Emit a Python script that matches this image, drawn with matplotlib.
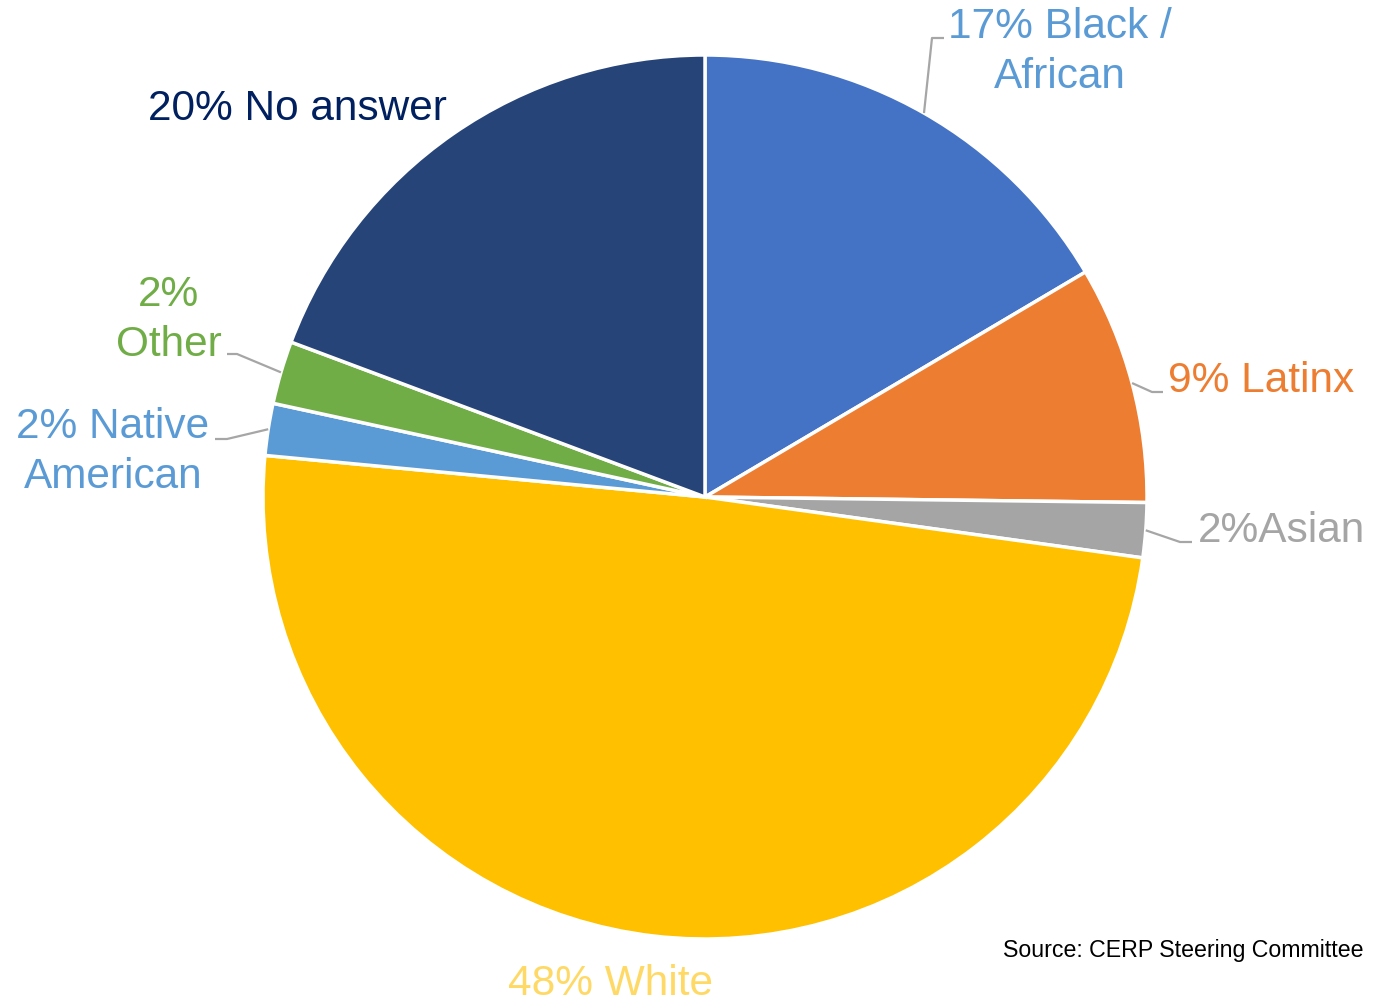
import numpy as np
import matplotlib.pyplot as plt

plt.rcParams['font.family'] = ['Liberation Sans', 'DejaVu Sans']

# shares (labels show the rounded values)
groups = ['Black / African', 'Latinx', 'Asian', 'White', 'Native American', 'Other', 'No answer']
shares = [16.5, 8.7, 2.0, 49.3, 1.9, 2.3, 19.3]
labels = ['17% Black /\nAfrican', '9% Latinx', '2%Asian', '48% White',
          '2% Native\nAmerican', '2%\nOther', '20% No answer']
slice_colors = ['#4472C4', '#ED7D31', '#A5A5A5', '#FFC000', '#5B9BD5', '#70AD47', '#264478']
text_colors = ['#5B9BD5', '#ED7D31', '#A5A5A5', '#FFD966', '#5B9BD5', '#70AD47', '#002060']

# label layout in pixel coords (x, y from top): text centre, leader elbow, leader end
W, H = 1374, 1005
cx, cy, R = 705, 497, 442
text_pos = [(1060, 52), (1261, 381), (1281, 531), (611, 984), (113, 452), (169, 320), (297, 109)]
elbows = [(932, 38), (1152, 392), (1180, 542), None, (227, 439), (237, 354), None]
ends = [(944, 38), (1163, 392), (1192, 542), None, (215, 439), (227, 354), None]

fig = plt.figure(figsize=(W / 100, H / 100), dpi=100)
ax = fig.add_axes([0, 0, 1, 1])

wedges, _ = ax.pie(shares, colors=slice_colors, startangle=90, counterclock=False,
                   center=(cx, H - cy), radius=R, frame=True,
                   wedgeprops=dict(edgecolor='white', linewidth=2.5))
ax.set_xlim(0, W)
ax.set_ylim(0, H)
ax.axis('off')

for i, w in enumerate(wedges):
    if elbows[i] is not None:
        mid = np.deg2rad((w.theta1 + w.theta2) / 2)
        x0 = cx + R * np.cos(mid)
        y0 = (H - cy) + R * np.sin(mid)
        ax.plot([x0, elbows[i][0], ends[i][0]],
                [y0, H - elbows[i][1], H - ends[i][1]],
                color='#A6A6A6', lw=1.6, solid_capstyle='butt')
    tx, ty = text_pos[i]
    ax.text(tx, H - ty, labels[i], color=text_colors[i], fontsize=30.5,
            ha='center', va='center', multialignment='center', linespacing=1.3)

ax.text(1003, H - 957, 'Source: CERP Steering Committee', fontsize=16.7,
        color='black', ha='left', va='baseline')

fig.savefig('out.png', dpi=100, facecolor='white')
